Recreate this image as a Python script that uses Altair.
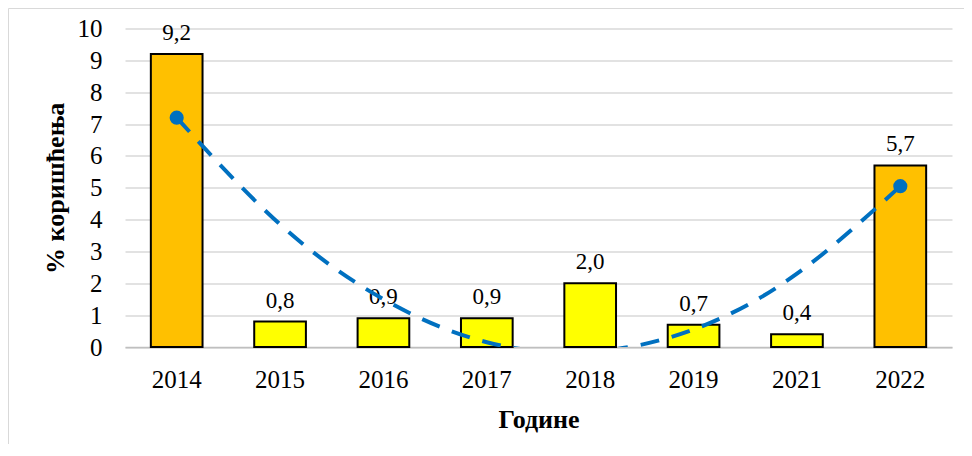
import altair as alt
import pandas as pd

# ---- data ----
years = ["2014", "2015", "2016", "2017", "2018", "2019", "2021", "2022"]
values = [9.2, 0.8, 0.9, 0.9, 2.0, 0.7, 0.4, 5.7]
highlight_years = ["2014", "2022"]
trend = [7.2, 3.85, 1.5, 0.15, -0.15, 0.55, 2.3, 5.05]
y_ticks = [0, 1, 2, 3, 4, 5, 6, 7, 8, 9, 10]

FONT = "Liberation Serif"

df = pd.DataFrame({
    "year": years,
    "value": values,
    "label": [f"{v:.1f}".replace(".", ",") for v in values],
    "group": ["high" if y in highlight_years else "low" for y in years],
})
tdf = pd.DataFrame({"year": years, "value": trend})
ends = tdf[tdf["year"].isin([years[0], years[-1]])]

x_axis = alt.Axis(
    title="Године",
    labelAngle=0,
    labelFontSize=25,
    labelPadding=20,
    labelColor="black",
    labelOverlap=False,
    ticks=False,
    domainColor="#BFBFBF",
    domainWidth=1.5,
    titleFontSize=26,
    titleFontWeight="bold",
    titleColor="black",
    titleBaseline="alphabetic",
    titleY=80,
)
y_axis = alt.Axis(
    title="% коришћења",
    values=y_ticks,
    tickCount=11,
    grid=True,
    gridColor="#D9D9D9",
    gridWidth=1.5,
    domain=False,
    ticks=False,
    labelFontSize=25,
    labelPadding=23,
    labelColor="black",
    labelOverlap=False,
    titleFontSize=26,
    titleFontWeight="bold",
    titleColor="black",
    titleBaseline="alphabetic",
    titleX=-61.5,
)
x_scale = alt.Scale(paddingInner=0.5, paddingOuter=0.25)
y_scale = alt.Scale(domain=[0, 10], nice=False, zero=True)


def X():
    return alt.X("year:N", sort=years, scale=x_scale, axis=x_axis)


def Y():
    return alt.Y("value:Q", scale=y_scale, axis=y_axis)


frame = alt.Chart(pd.DataFrame({"a": [0]})).mark_rect(
    fill=None, stroke="#D9D9D9", strokeWidth=1
).encode(
    x=alt.value(-116.5), x2=alt.value(1000), y=alt.value(-20), y2=alt.value(600)
)

bars = alt.Chart(df).mark_bar(stroke="black", strokeWidth=2).encode(
    x=X(),
    y=Y(),
    color=alt.Color(
        "group:N",
        scale=alt.Scale(domain=["high", "low"], range=["#FFC000", "#FFFF00"]),
        legend=None,
    ),
)

labels = alt.Chart(df).mark_text(
    baseline="alphabetic", dy=-14, fontSize=23, font=FONT, color="black"
).encode(x=X(), y=Y(), text="label:N")

line = alt.Chart(tdf).mark_line(
    color="#0070C0", strokeWidth=4, strokeDash=[19, 13], interpolate="natural", clip=True
).encode(x=X(), y=Y())

dots = alt.Chart(ends).mark_circle(size=200, color="#0070C0", opacity=1).encode(
    x=X(), y=Y()
)

chart = alt.layer(frame, bars, labels, line, dots).properties(
    width=827,
    height=318.5,
    autosize=alt.AutoSizeParams(type="none"),
    padding={"left": 117, "top": 20.5, "right": 12, "bottom": 97},
).configure(
    font=FONT,
).configure_view(
    stroke=None
)

chart.save("out.html", embed_options={"renderer": "svg", "actions": False})
